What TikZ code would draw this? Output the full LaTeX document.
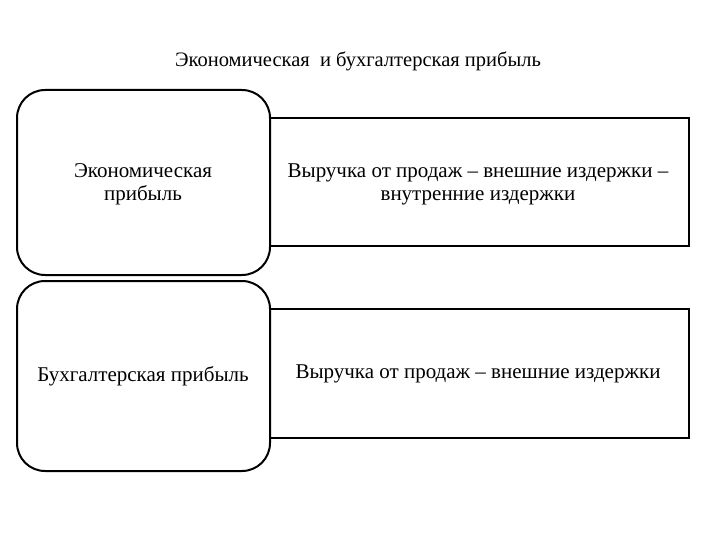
\documentclass[tikz,border=0pt]{standalone}
\usepackage{fontspec}
\setmainfont{Liberation Serif}
\begin{document}
\begin{tikzpicture}[x=1pt,y=-1pt,
  rbox/.style={draw,line width=2pt,rounded corners=28pt,fill=white},
  sbox/.style={draw,line width=2pt},
  txt/.style={align=center,font=\fontsize{21}{23}\selectfont}]
\useasboundingbox (0,0) rectangle (720,540);
\node[font=\fontsize{20.5}{24}\selectfont] (title) at (358,61) {Экономическая\ \ и бухгалтерская прибыль};
\draw[sbox] (250,118) rectangle (689,246);
\draw[rbox] (17,90) rectangle (270,275);
\draw[sbox] (250,309) rectangle (689,438);
\draw[rbox] (17,281) rectangle (270,471);
\node[txt] (e) at (143,184) {Экономическая\\прибыль};
\node[txt] (er) at (478,184) {Выручка от продаж – внешние издержки –\\внутренние издержки};
\node[txt] (b) at (143,376) {Бухгалтерская прибыль};
\node[txt] (br) at (478,374) {Выручка от продаж – внешние издержки};
\end{tikzpicture}
\end{document}
